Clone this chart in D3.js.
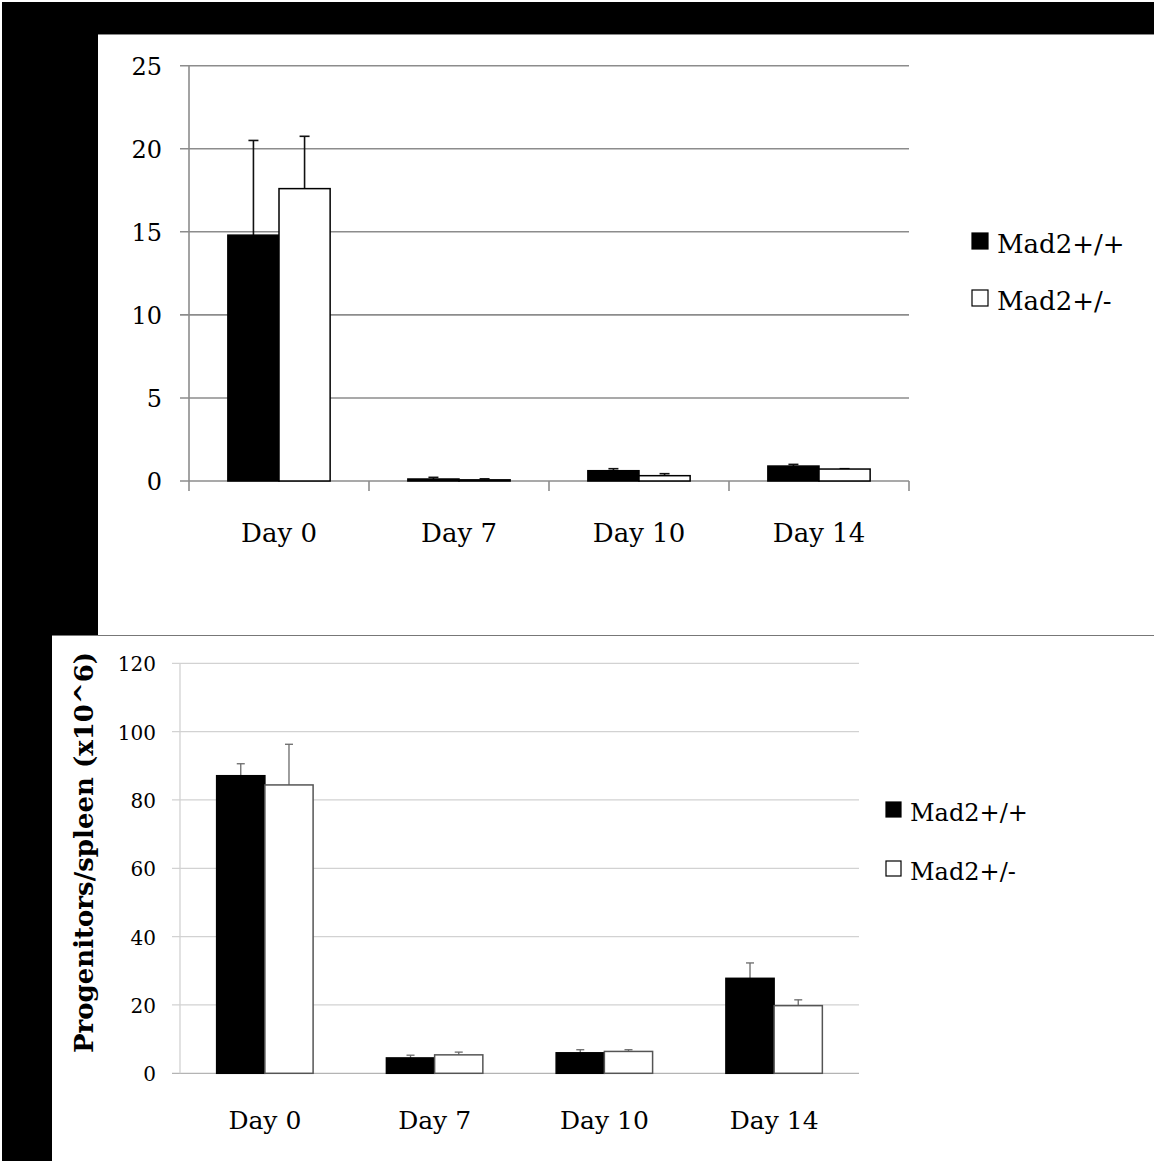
<!DOCTYPE html>
<html>
<head>
<meta charset="utf-8">
<script src="https://cdn.jsdelivr.net/npm/d3@7"></script>
<style>
  html, body { margin: 0; padding: 0; background: #fff; }
  svg { display: block; }
  text { font-family: "DejaVu Serif", "Liberation Serif", serif; fill: #000; }
</style>
</head>
<body>
<svg id="fig" width="1154" height="1161"></svg>
<script>
// Time points and genotypes shared by both panels
const categories = ["Day 0", "Day 7", "Day 10", "Day 14"];
const genotypes = ["Mad2+/+", "Mad2+/-"];

// Upper panel: means and upper error
const topWT = [14.8, 0.12, 0.62, 0.90];
const topWTErr = [5.7, 0.10, 0.12, 0.10];
const topHet = [17.6, 0.07, 0.32, 0.72];
const topHetErr = [3.15, 0.06, 0.12, 0.02];
const topTicks = [0, 5, 10, 15, 20, 25];

// Lower panel: progenitors per spleen (x10^6)
const botWT = [87.1, 4.5, 6.0, 27.8];
const botWTErr = [3.5, 0.8, 0.9, 4.5];
const botHet = [84.4, 5.4, 6.4, 19.8];
const botHetErr = [11.9, 0.8, 0.5, 1.7];
const botTicks = [0, 20, 40, 60, 80, 100, 120];
const botTitle = "Progenitors/spleen (x10^6)";

const svg = d3.select("#fig");

// Page background: black surround with white panels
svg.append("rect").attr("x", 0).attr("y", 0).attr("width", 1154).attr("height", 1161).attr("fill", "#fff");
svg.append("rect").attr("x", 2).attr("y", 2).attr("width", 1152).attr("height", 1159).attr("fill", "#000");
svg.append("rect").attr("x", 98).attr("y", 34).attr("width", 1056).attr("height", 601).attr("fill", "#fff");
svg.append("rect").attr("x", 52).attr("y", 635).attr("width", 1102).attr("height", 526).attr("fill", "#fff");
svg.append("line").attr("x1", 98).attr("x2", 1154).attr("y1", 34.5).attr("y2", 34.5)
  .attr("stroke", "#888").attr("stroke-width", 1);
svg.append("line").attr("x1", 52).attr("x2", 1154).attr("y1", 635.5).attr("y2", 635.5)
  .attr("stroke", "#777").attr("stroke-width", 1.2);

function panel(opt) {
  const g = svg.append("g");
  const x = d3.scaleBand().domain(categories).range([opt.x0, opt.x1]);
  const xs = d3.scaleBand().domain(genotypes).range([0, x.bandwidth()]).paddingOuter(0.76);
  const y = d3.scaleLinear().domain([0, opt.max]).range([opt.y0, opt.y1]);

  // gridlines with left tick stubs
  g.append("g").selectAll("line").data(opt.ticks).join("line")
    .attr("x1", opt.x0 - opt.tickLen).attr("x2", opt.x1)
    .attr("y1", d => y(d)).attr("y2", d => y(d))
    .attr("stroke", d => d === 0 ? opt.baseColor : opt.gridColor)
    .attr("stroke-width", opt.gridWidth);

  // vertical axis line
  g.append("line").attr("x1", opt.x0).attr("x2", opt.x0)
    .attr("y1", y(opt.max)).attr("y2", y(0))
    .attr("stroke", opt.axisColor).attr("stroke-width", opt.gridWidth);

  // category boundary ticks below the baseline
  if (opt.xTicks) {
    const bounds = categories.map(c => x(c)).concat([opt.x1]);
    g.append("g").selectAll("line").data(bounds).join("line")
      .attr("x1", d => d).attr("x2", d => d)
      .attr("y1", y(0)).attr("y2", y(0) + 10)
      .attr("stroke", opt.gridColor).attr("stroke-width", opt.gridWidth);
  }

  // tick labels
  g.append("g").selectAll("text").data(opt.ticks).join("text")
    .attr("x", opt.labelX).attr("y", d => y(d) + opt.labelDy)
    .attr("text-anchor", "end").attr("font-size", opt.tickFont)
    .text(d => d);

  // category labels
  g.append("g").selectAll("text").data(categories).join("text")
    .attr("x", d => x(d) + x.bandwidth() / 2).attr("y", opt.catY)
    .attr("text-anchor", "middle").attr("font-size", opt.catFont)
    .text(d => d);

  const rows = [];
  categories.forEach((c, i) => {
    rows.push({ c, s: genotypes[0], v: opt.wt[i], e: opt.wtErr[i] });
    rows.push({ c, s: genotypes[1], v: opt.het[i], e: opt.hetErr[i] });
  });

  // error bars (upper only)
  const eb = g.append("g").attr("stroke", opt.errColor).attr("stroke-width", opt.errWidth);
  rows.forEach(r => {
    const cx = x(r.c) + xs(r.s) + xs.bandwidth() / 2;
    eb.append("line").attr("x1", cx).attr("x2", cx).attr("y1", y(r.v)).attr("y2", y(r.v + r.e));
    eb.append("line").attr("x1", cx - opt.cap).attr("x2", cx + opt.cap)
      .attr("y1", y(r.v + r.e)).attr("y2", y(r.v + r.e));
  });

  // bars
  g.append("g").selectAll("rect").data(rows).join("rect")
    .attr("x", d => x(d.c) + xs(d.s))
    .attr("y", d => y(d.v))
    .attr("width", xs.bandwidth())
    .attr("height", d => y(0) - y(d.v))
    .attr("fill", d => d.s === genotypes[0] ? "#000" : "#fff")
    .attr("stroke", d => d.s === genotypes[0] ? "#000" : opt.barStroke)
    .attr("stroke-width", 1.5);

  // legend
  const lg = g.append("g");
  genotypes.forEach((s, i) => {
    const ly = opt.legY + i * opt.legGap;
    lg.append("rect").attr("x", opt.legX).attr("y", ly - opt.legBox - 4)
      .attr("width", opt.legBox).attr("height", opt.legBox)
      .attr("fill", i === 0 ? "#000" : "#fff").attr("stroke", "#000").attr("stroke-width", 1.2);
    lg.append("text").attr("x", opt.legX + opt.legBox + 9).attr("y", ly)
      .attr("font-size", opt.legFont).text(s);
  });
  return { g, y };
}

panel({
  x0: 189, x1: 909, y0: 481, y1: 65.7, max: 25, ticks: topTicks,
  wt: topWT, wtErr: topWTErr, het: topHet, hetErr: topHetErr,
  gridColor: "#8c8c8c", baseColor: "#8c8c8c", axisColor: "#8c8c8c", gridWidth: 1.6, tickLen: 9,
  xTicks: true, labelX: 162, labelDy: 9, tickFont: 24, catY: 542, catFont: 26,
  errColor: "#111", errWidth: 1.6, cap: 5, barStroke: "#000",
  legX: 972, legY: 253, legGap: 57, legBox: 16, legFont: 26
});

panel({
  x0: 180, x1: 859, y0: 1073.3, y1: 663.3, max: 120, ticks: botTicks,
  wt: botWT, wtErr: botWTErr, het: botHet, hetErr: botHetErr,
  gridColor: "#d2d2d2", baseColor: "#b4b4b4", axisColor: "#d2d2d2", gridWidth: 1.3, tickLen: 8,
  xTicks: false, labelX: 156, labelDy: 8, tickFont: 20, catY: 1129, catFont: 25,
  errColor: "#6a6a6a", errWidth: 1.3, cap: 4, barStroke: "#555",
  legX: 886, legY: 821, legGap: 59, legBox: 15, legFont: 24
});

// lower panel axis title
svg.append("text")
  .attr("transform", "translate(93,852.5) rotate(-90)")
  .attr("text-anchor", "middle").attr("font-size", 26).attr("font-weight", "bold")
  .text(botTitle);
</script>
</body>
</html>
